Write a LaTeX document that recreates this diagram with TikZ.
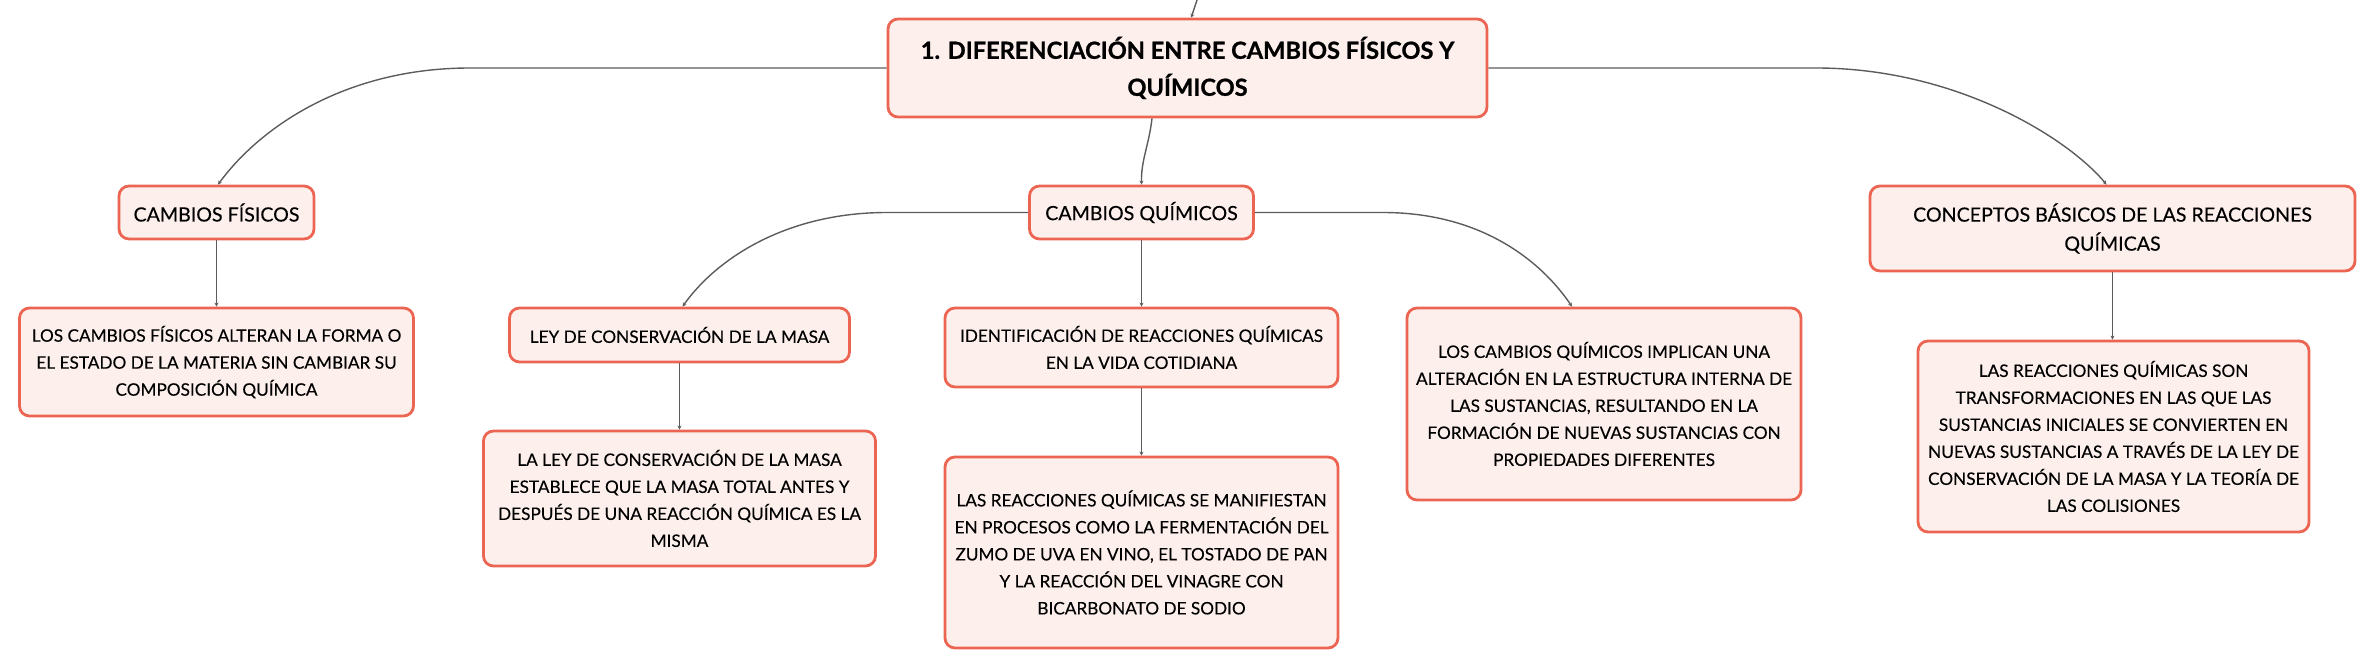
\documentclass[tikz,border=0pt]{standalone}
\usepackage{fontspec}
\setmainfont{Lato}
\usetikzlibrary{arrows.meta}
\definecolor{boxline}{HTML}{EC6552}
\definecolor{boxfill}{HTML}{FDF0EC}
\definecolor{linkgray}{HTML}{5C5C5C}
\tikzset{
	topic/.style={draw=boxline, fill=boxfill, line width=1.4pt, rounded corners=5pt, align=center, inner sep=0pt, font=\fontsize{8.6}{13.5}\selectfont\addfontfeatures{FakeBold=0.25}},
	branch/.style={topic, font=\fontsize{9.8}{14.5}\selectfont\addfontfeatures{FakeBold=0.25}},
	title/.style={topic, font=\bfseries\fontsize{11.8}{18.5}\selectfont\addfontfeatures{FakeBold=0.9}},
	link/.style={draw=linkgray, line width=0.7pt, -{Stealth[length=2pt,width=2pt]}}
}

\begin{document}
\begin{tikzpicture}[x=0.5pt, y=-0.5pt]
		%%%%% START %%%%%
		\useasboundingbox (0, 0) rectangle (2376, 668);
		
		\node[title, minimum width=299.5pt, minimum height=49pt] (root) at (1187.5, 68) {1. DIFERENCIACIÓN ENTRE CAMBIOS FÍSICOS Y\\QUÍMICOS};
		
		\node[branch, minimum width=97.5pt, minimum height=26.5pt] (fis) at (216.5, 212.5) {CAMBIOS FÍSICOS};
		\node[branch, minimum width=112pt, minimum height=26.5pt] (qui) at (1141.5, 212.5) {CAMBIOS QUÍMICOS};
		\node[branch, minimum width=242.5pt, minimum height=42.5pt] (con) at (2112.5, 228.5) {CONCEPTOS BÁSICOS DE LAS REACCIONES\\QUÍMICAS};
		
		\node[topic, minimum width=197pt, minimum height=54pt] (fisd) at (216.5, 362) {LOS CAMBIOS FÍSICOS ALTERAN LA FORMA O\\EL ESTADO DE LA MATERIA SIN CAMBIAR SU\\COMPOSICIÓN QUÍMICA};
		\node[topic, minimum width=170pt, minimum height=27pt] (ley) at (679.5, 335) {LEY DE CONSERVACIÓN DE LA MASA};
		\node[topic, minimum width=196.5pt, minimum height=39.5pt] (ide) at (1141.5, 347.5) {IDENTIFICACIÓN DE REACCIONES QUÍMICAS\\EN LA VIDA COTIDIANA};
		\node[topic, minimum width=197pt, minimum height=96pt] (quid) at (1604, 404) {LOS CAMBIOS QUÍMICOS IMPLICAN UNA\\ALTERACIÓN EN LA ESTRUCTURA INTERNA DE\\LAS SUSTANCIAS, RESULTANDO EN LA\\FORMACIÓN DE NUEVAS SUSTANCIAS CON\\PROPIEDADES DIFERENTES};
		\node[topic, minimum width=196pt, minimum height=67.5pt] (leyd) at (679.5, 498.5) {LA LEY DE CONSERVACIÓN DE LA MASA\\ESTABLECE QUE LA MASA TOTAL ANTES Y\\DESPUÉS DE UNA REACCIÓN QUÍMICA ES LA\\MISMA};
		\node[topic, minimum width=196.5pt, minimum height=95.5pt] (ided) at (1141.5, 552.5) {LAS REACCIONES QUÍMICAS SE MANIFIESTAN\\EN PROCESOS COMO LA FERMENTACIÓN DEL\\ZUMO DE UVA EN VINO, EL TOSTADO DE PAN\\Y LA REACCIÓN DEL VINAGRE CON\\BICARBONATO DE SODIO};
		\node[topic, minimum width=195.5pt, minimum height=95.5pt] (cond) at (2113.5, 436.5) {LAS REACCIONES QUÍMICAS SON\\TRANSFORMACIONES EN LAS QUE LAS\\SUSTANCIAS INICIALES SE CONVIERTEN EN\\NUEVAS SUSTANCIAS A TRAVÉS DE LA LEY DE\\CONSERVACIÓN DE LA MASA Y LA TEORÍA DE\\LAS COLISIONES};
		
		\coordinate (above) at (1197, 0);
		\draw[link] (above) .. controls (1195, 8) .. ([xshift=1.75pt]root.north);
		
		\draw[link] (root.west) -- (470, 68) .. controls (347, 68) and (261, 126) .. ([xshift=0.75pt]fis.north);
		\draw[link] ([xshift=-17.75pt]root.south) .. controls (1149, 145) and (1141, 160) .. (qui.north);
		\draw[link] (root.east) -- (1816, 68) .. controls (1956, 68) and (2068, 138) .. ([xshift=-3pt]con.north);
		
		\draw[link] (fis.south) -- (fisd.north -| fis.south);
		\draw[link] (qui.west) -- (887, 212.5) .. controls (787, 212.5) and (717, 258) .. ([xshift=1.5pt]ley.north);
		\draw[link] (qui.south) -- (ide.north -| qui.south);
		\draw[link] (qui.east) -- (1383, 212.5) .. controls (1478, 212.5) and (1539, 258) .. ([xshift=-16pt]quid.north);
		
		\draw[link] (ley.south) -- (leyd.north);
		\draw[link] (ide.south) -- (ided.north);
		\draw[link] (con.south) -- (cond.north -| con.south);
		
		%%%%% END %%%%%
\end{tikzpicture}
\end{document}
